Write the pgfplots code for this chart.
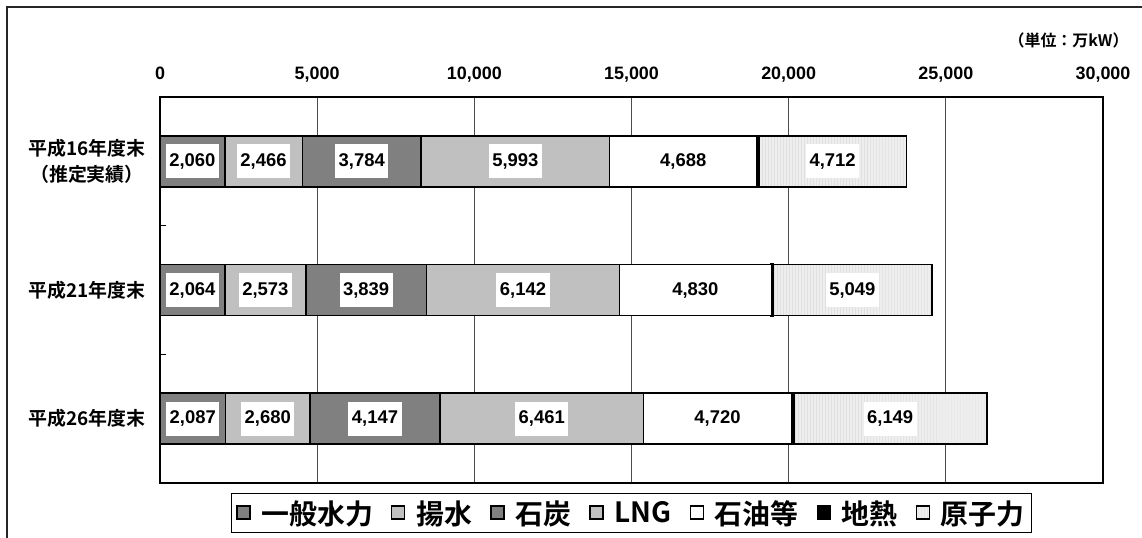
\documentclass[border=0pt]{standalone}
\usepackage{pgfplots}
\pgfplotsset{compat=1.18}
\usepackage{pgfplotstable}
\usepackage{fontspec}
\setmainfont{Liberation Sans}
\newfontfamily\jp{Noto Sans CJK JP}[BoldFont={Noto Sans CJK JP Bold}]
\usetikzlibrary{patterns}

\definecolor{dgray}{HTML}{808080}
\definecolor{lgray}{HTML}{C0C0C0}
\definecolor{ngray}{HTML}{EEEEEE}

% c: 0 = H16, 1 = H21, 2 = H26
\pgfplotstableread{
c hydro pumped coal lng oil geo nuc
0 2060 2466 3784 5993 4688 52 4712
1 2064 2573 3839 6142 4830 55 5049
2 2087 2680 4147 6461 4720 60 6149
}\data

\pgfplotsset{
  common/.style={
    at={(160bp,55bp)}, anchor=south west,
    scale only axis, width=943bp, height=386bp,
    xmin=0, xmax=30000,
    ymin=-0.5, ymax=2.5, y dir=reverse,
    /pgf/number format/assume math mode=true,
    /pgf/number format/1000 sep={,},
    /pgf/number format/fixed, /pgf/number format/precision=0,
  },
}

\begin{document}
\begin{tikzpicture}
\useasboundingbox (0,0) rectangle (1142bp,538bp);
\draw[line width=2bp, black!85] (7bp,0) -- (7bp,531bp) -- (1142bp,531bp);
\node[anchor=east, font=\jp\bfseries\fontsize{16}{18}\selectfont] at (1132bp,498bp) {（単位：万kW）};
\begin{axis}[
  common,
  xbar stacked, bar width=51bp,
  xtick={0,5000,...,30000},
  scaled x ticks=false,
  xticklabel pos=upper, xtick pos=upper,
  xtick style={draw=none},
  xticklabel style={anchor=base, yshift=18bp, font=\bfseries\fontsize{18}{20}\selectfont},
  xmajorgrids, major x grid style={draw=black!70, line width=1bp},
  ytick={0,1,2},
  yticklabels={{平成16年度末\\（推定実績）},{平成21年度末},{平成26年度末}},
  yticklabel style={align=center, xshift=-11bp, font=\jp\bfseries\fontsize{19}{27}\selectfont},
  minor ytick={0.5,1.5},
  ytick pos=left,
  major tick length=0bp, minor tick length=6bp,
  minor tick style={line width=1.5bp, black},
  axis line style={line width=1.5bp, black},
  every axis plot/.append style={draw=black, line width=1.5bp},
  legend columns=7,
  legend style={at={(0.5,-0.078)}, anchor=center, draw=black, line width=1bp,
    font=\jp\bfseries\fontsize{28}{31}\selectfont, inner xsep=5bp, inner ysep=5bp,
    /tikz/every even column/.append style={column sep=16bp},
    /tikz/every odd column/.append style={column sep=9bp}},
  legend image code/.code={\draw[#1, draw=black, line width=1.3bp] (0bp,-6bp) rectangle (13bp,7bp);},
]
\addplot[fill=dgray] table[x=hydro, y=c] {\data};
\addplot[fill=lgray] table[x=pumped, y=c] {\data};
\addplot[fill=dgray] table[x=coal, y=c] {\data};
\addplot[fill=lgray] table[x=lng, y=c] {\data};
\addplot[fill=white] table[x=oil, y=c] {\data};
\addplot[fill=black, line width=2.5bp] table[x=geo, y=c] {\data};
\addplot[fill=ngray, postaction={pattern=vertical lines, pattern color=black!12}] table[x=nuc, y=c] {\data};
\legend{一般水力,揚水,石炭,LNG,石油等,地熱,原子力}
\end{axis}
% value labels, centred in each segment
\begin{axis}[
  common, hide axis,
  every axis plot/.append style={draw=none, mark=none,
    nodes near coords={\pgfmathprintnumber{\pgfplotspointmeta}}},
  every node near coord/.style={anchor=center,
      fill=white, inner xsep=3.5bp, minimum height=34bp,
      font=\bfseries\fontsize{18.5}{20}\selectfont, text=black},
]
\addplot[point meta=\thisrow{hydro}] table[y=c, x expr={\thisrow{hydro}/2}] {\data};
\addplot[point meta=\thisrow{pumped}] table[y=c, x expr={\thisrow{hydro}+\thisrow{pumped}/2}] {\data};
\addplot[point meta=\thisrow{coal}] table[y=c, x expr={\thisrow{hydro}+\thisrow{pumped}+\thisrow{coal}/2}] {\data};
\addplot[point meta=\thisrow{lng}] table[y=c, x expr={\thisrow{hydro}+\thisrow{pumped}+\thisrow{coal}+\thisrow{lng}/2}] {\data};
\addplot[point meta=\thisrow{oil}] table[y=c, x expr={\thisrow{hydro}+\thisrow{pumped}+\thisrow{coal}+\thisrow{lng}+\thisrow{oil}/2}] {\data};
\addplot[point meta=\thisrow{nuc}] table[y=c, x expr={\thisrow{hydro}+\thisrow{pumped}+\thisrow{coal}+\thisrow{lng}+\thisrow{oil}+\thisrow{geo}+\thisrow{nuc}/2}] {\data};
\end{axis}
\end{tikzpicture}
\end{document}
